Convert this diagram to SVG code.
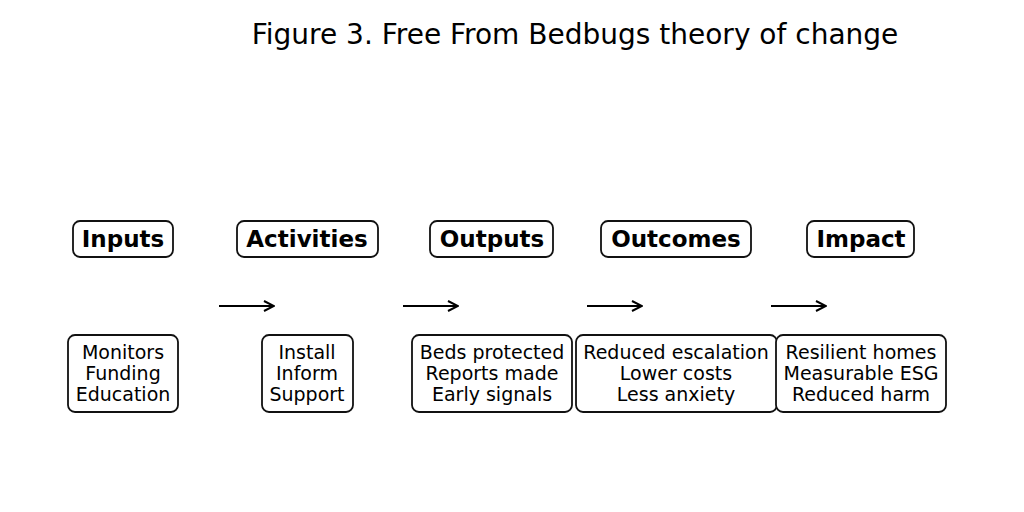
<svg xmlns="http://www.w3.org/2000/svg" width="1024" height="512" viewBox="0 0 1024 512">
<style>
text{font-family:"DejaVu Sans",sans-serif;fill:#000;text-anchor:middle}
.h{font-size:23px;font-weight:bold}
.b{font-size:19px}
rect{fill:#fff;stroke:#111;stroke-width:1.8}
.c line{stroke:#000;stroke-width:2}
</style>
<defs><marker id="a" viewBox="0 0 12 12" refX="11" refY="6" markerWidth="12" markerHeight="12" orient="auto" markerUnits="userSpaceOnUse"><path d="M1,1 L11,6 L1,11" fill="none" stroke="#000" stroke-width="2"/></marker></defs>
<rect width="1024" height="512" style="stroke:none"/>
<text x="575" y="44" style="font-size:28px">Figure 3. Free From Bedbugs theory of change</text>
<g id="h1"><rect x="73" y="221" width="100" height="36" rx="7"/><text class="h" x="123" y="247">Inputs</text></g>
<g id="h2"><rect x="237" y="221" width="141" height="36" rx="7"/><text class="h" x="307" y="247">Activities</text></g>
<g id="h3"><rect x="430" y="221" width="123" height="36" rx="7"/><text class="h" x="492" y="247">Outputs</text></g>
<g id="h4"><rect x="601" y="221" width="150" height="36" rx="7"/><text class="h" x="676" y="247">Outcomes</text></g>
<g id="h5"><rect x="807" y="221" width="107" height="36" rx="7"/><text class="h" x="861" y="247">Impact</text></g>
<g id="b1"><rect x="68" y="335" width="110" height="77" rx="7"/><text class="b"><tspan x="123" y="359">Monitors</tspan><tspan x="123" y="380">Funding</tspan><tspan x="123" y="401">Education</tspan></text></g>
<g id="b2"><rect x="262" y="335" width="91" height="77" rx="7"/><text class="b"><tspan x="307" y="359">Install</tspan><tspan x="307" y="380">Inform</tspan><tspan x="307" y="401">Support</tspan></text></g>
<g id="b3"><rect x="412" y="335" width="160" height="77" rx="7"/><text class="b"><tspan x="492" y="359">Beds protected</tspan><tspan x="492" y="380">Reports made</tspan><tspan x="492" y="401">Early signals</tspan></text></g>
<g id="b4"><rect x="576" y="335" width="201" height="77" rx="7"/><text class="b"><tspan x="676" y="359">Reduced escalation</tspan><tspan x="676" y="380">Lower costs</tspan><tspan x="676" y="401">Less anxiety</tspan></text></g>
<g id="b5"><rect x="776" y="335" width="170" height="77" rx="7"/><text class="b"><tspan x="861" y="359">Resilient homes</tspan><tspan x="861" y="380">Measurable ESG</tspan><tspan x="861" y="401">Reduced harm</tspan></text></g>
<g class="c" id="connectors">
<line x1="219" y1="306" x2="274" y2="306" marker-end="url(#a)"/>
<line x1="403" y1="306" x2="458" y2="306" marker-end="url(#a)"/>
<line x1="587" y1="306" x2="642" y2="306" marker-end="url(#a)"/>
<line x1="771" y1="306" x2="826" y2="306" marker-end="url(#a)"/>
</g>
</svg>
